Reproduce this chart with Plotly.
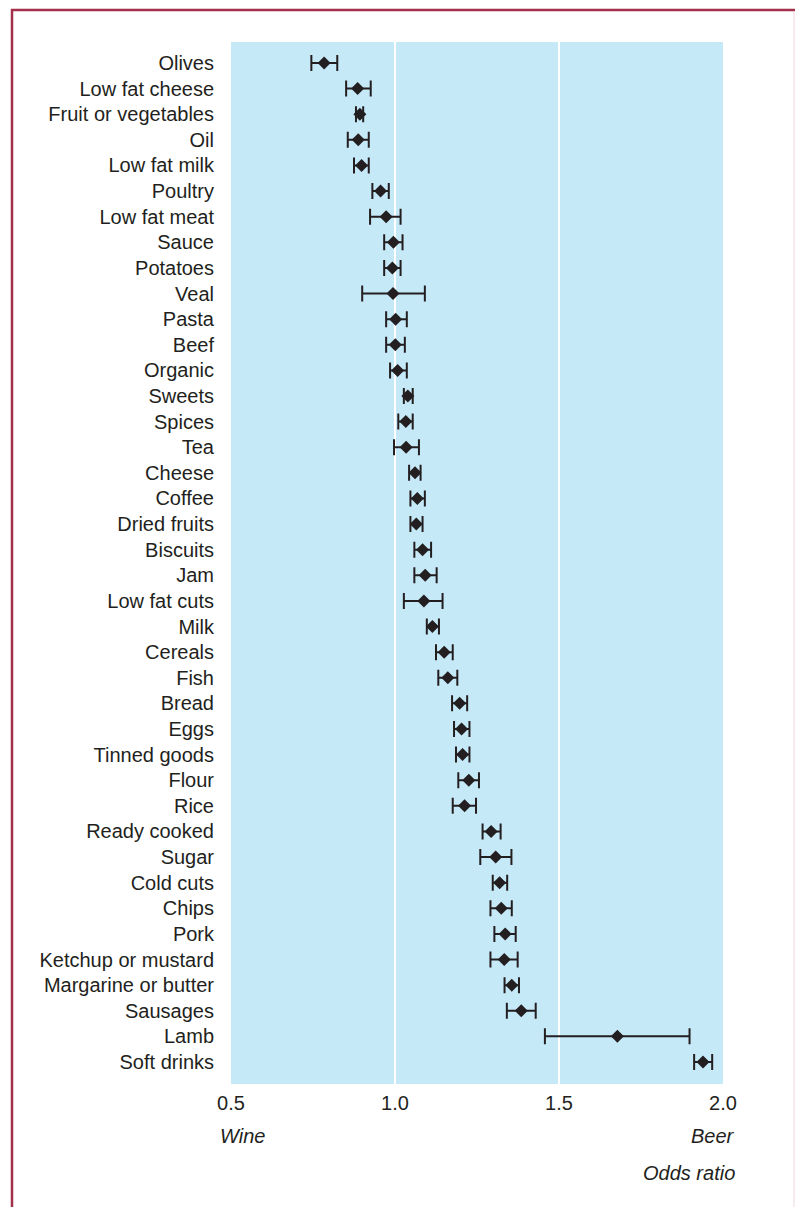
import plotly.graph_objects as go

categories = ["Olives", "Low fat cheese", "Fruit or vegetables", "Oil", "Low fat milk",
              "Poultry", "Low fat meat", "Sauce", "Potatoes", "Veal", "Pasta", "Beef",
              "Organic", "Sweets", "Spices", "Tea", "Cheese", "Coffee", "Dried fruits",
              "Biscuits", "Jam", "Low fat cuts", "Milk", "Cereals", "Fish", "Bread",
              "Eggs", "Tinned goods", "Flour", "Rice", "Ready cooked", "Sugar",
              "Cold cuts", "Chips", "Pork", "Ketchup or mustard", "Margarine or butter",
              "Sausages", "Lamb", "Soft drinks"]
odds_ratio = [0.784, 0.886, 0.893, 0.888, 0.898, 0.956, 0.973, 0.995, 0.992, 0.994,
              1.002, 1.001, 1.008, 1.039, 1.033, 1.034, 1.061, 1.068, 1.065, 1.084,
              1.092, 1.088, 1.114, 1.150, 1.161, 1.197, 1.203, 1.206, 1.225, 1.212,
              1.293, 1.307, 1.319, 1.324, 1.336, 1.333, 1.356, 1.385, 1.678, 1.939]
ci_low = [0.745, 0.851, 0.881, 0.856, 0.875, 0.931, 0.924, 0.967, 0.967, 0.900,
          0.973, 0.973, 0.985, 1.027, 1.010, 0.997, 1.043, 1.047, 1.047, 1.059,
          1.059, 1.027, 1.097, 1.125, 1.132, 1.174, 1.180, 1.186, 1.193, 1.176,
          1.267, 1.260, 1.298, 1.291, 1.303, 1.291, 1.334, 1.341, 1.457, 1.912]
ci_high = [0.824, 0.926, 0.903, 0.920, 0.920, 0.981, 1.017, 1.023, 1.017, 1.091,
           1.036, 1.030, 1.036, 1.054, 1.054, 1.073, 1.078, 1.091, 1.084, 1.110,
           1.127, 1.145, 1.134, 1.176, 1.190, 1.220, 1.227, 1.227, 1.256, 1.247,
           1.322, 1.355, 1.342, 1.356, 1.368, 1.374, 1.378, 1.429, 1.898, 1.967]
x_ticks = [0.5, 1.0, 1.5, 2.0]
x_tick_labels = ["0.5", "1.0", "1.5", "2.0"]

FONT = "Liberation Sans, Arial, sans-serif"
TXT = "#231f20"

err_plus = [h - m for h, m in zip(ci_high, odds_ratio)]
err_minus = [m - l for m, l in zip(odds_ratio, ci_low)]

fig = go.Figure()
fig.add_trace(go.Scatter(
    x=odds_ratio, y=categories, mode="markers",
    marker=dict(symbol="diamond", size=10, color=TXT, line=dict(width=0)),
    error_x=dict(type="data", symmetric=False, array=err_plus, arrayminus=err_minus,
                 color=TXT, thickness=2, width=8),
    showlegend=False,
))

n = len(categories)
fig.update_layout(
    width=795, height=1207,
    margin=dict(l=231, r=72, t=42, b=123),
    paper_bgcolor="white",
    plot_bgcolor="#c6e9f8",
    font=dict(family=FONT, color=TXT, size=20),
    xaxis=dict(range=[0.5, 2.0], tickmode="array", tickvals=x_ticks, ticktext=x_tick_labels,
               showgrid=True, gridcolor="white", gridwidth=2, zeroline=False,
               showline=False, ticks="", tickfont=dict(size=20, family=FONT, color=TXT),
               ticklabelstandoff=5),
    yaxis=dict(type="category", categoryorder="array", categoryarray=categories,
               tickmode="array", tickvals=categories, ticktext=categories,
               range=[n - 1 + 0.86, -0.82], showgrid=False, zeroline=False,
               ticks="", tickfont=dict(size=20, family=FONT, color=TXT),
               ticklabelstandoff=16),
)

fig.add_annotation(text="<i>Wine</i>", xref="paper", yref="paper", x=-0.027, y=-0.05,
                   xanchor="left", yanchor="middle", showarrow=False,
                   font=dict(size=20, family=FONT, color=TXT))
fig.add_annotation(text="<i>Beer</i>", xref="paper", yref="paper", x=1.028, y=-0.05,
                   xanchor="right", yanchor="middle", showarrow=False,
                   font=dict(size=20, family=FONT, color=TXT))
fig.add_annotation(text="<i>Odds ratio</i>", xref="paper", yref="paper", x=1.028, y=-0.0855,
                   xanchor="right", yanchor="middle", showarrow=False,
                   font=dict(size=20, family=FONT, color=TXT))

# frame around the figure
W, H = 795, 1207
pw, ph = W - 231 - 72, H - 42 - 123
def px_x(v):
    return (v - 231) / pw
def px_y(v):
    return (H - 123 - v) / ph
border = "#a3304a"
fig.add_shape(type="line", xref="paper", yref="paper", x0=px_x(12), x1=px_x(12),
              y0=px_y(9), y1=px_y(1215), line=dict(color=border, width=2.5))
fig.add_shape(type="line", xref="paper", yref="paper", x0=px_x(11), x1=px_x(800),
              y0=px_y(10), y1=px_y(10), line=dict(color=border, width=2.5))
fig.add_shape(type="line", xref="paper", yref="paper", x0=px_x(794), x1=px_x(794),
              y0=px_y(11), y1=px_y(1215), line=dict(color="#f0d6dd", width=1))

fig.write_html("out.html")
